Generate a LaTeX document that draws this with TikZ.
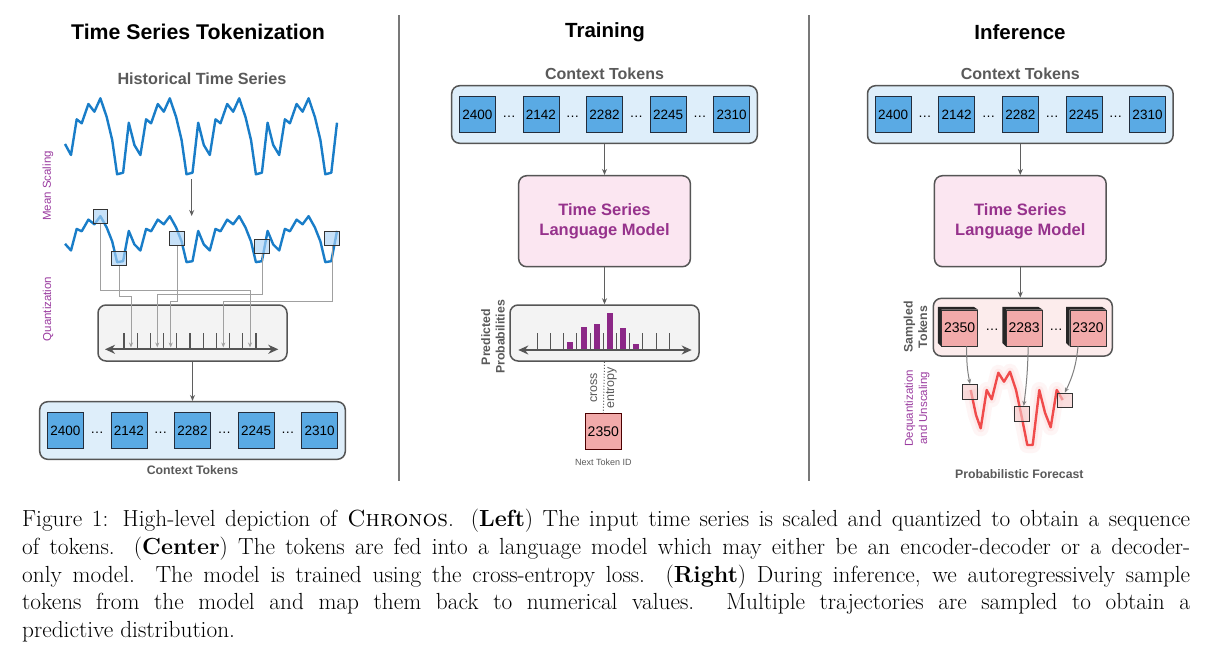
\documentclass[tikz,border=0pt]{standalone}
\usepackage{fontspec}
\newfontfamily\diagsans{Liberation Sans}
\usetikzlibrary{arrows.meta,positioning,calc}

\definecolor{tokblue}{RGB}{90,170,228}
\definecolor{tokedge}{RGB}{35,45,60}
\definecolor{ctxfill}{RGB}{222,238,250}
\definecolor{edgegray}{RGB}{85,85,85}
\definecolor{boxgray}{RGB}{243,243,243}
\definecolor{lmfill}{RGB}{251,230,241}
\definecolor{lmtext}{RGB}{150,50,140}
\definecolor{labpurple}{RGB}{155,60,160}
\definecolor{txtgray}{RGB}{90,90,90}
\definecolor{barpurple}{RGB}{140,40,135}
\definecolor{salmon}{RGB}{242,170,170}
\definecolor{sampfill}{RGB}{252,236,236}
\definecolor{fcred}{RGB}{240,75,75}
\definecolor{seriesblue}{RGB}{25,125,200}
\definecolor{qfill}{RGB}{170,210,245}
\definecolor{ffill}{RGB}{245,200,200}
\definecolor{linkgray}{RGB}{160,160,160}
\definecolor{flowgray}{RGB}{95,95,95}
\definecolor{axisgray}{RGB}{85,85,85}
\definecolor{sepgray}{RGB}{120,120,120}

\tikzset{
  token/.style={draw=tokedge, line width=0.8pt, fill=tokblue, minimum size=36pt, inner sep=0pt, font=\diagsans\fontsize{13.5}{16}\selectfont},
  dotsnode/.style={inner sep=0pt, font=\diagsans\fontsize{13.5}{16}\selectfont},
  ctxbox/.style={draw=edgegray, line width=1.5pt, fill=ctxfill, rounded corners=8pt, minimum width=305.6pt, minimum height=57.6pt, inner sep=0pt},
  panelbox/.style={draw=edgegray, line width=1.5pt, fill=boxgray, rounded corners=8pt, minimum width=189pt, minimum height=56pt, inner sep=0pt},
  lmbox/.style={draw=edgegray, line width=1.5pt, fill=lmfill, rounded corners=8pt, minimum width=171.7pt, minimum height=91pt, align=center, text=lmtext, font=\diagsans\bfseries\fontsize{16.5}{19.5}\selectfont},
  title/.style={font=\diagsans\bfseries\fontsize{20.5}{24}\selectfont},
  sublabel/.style={text=txtgray, font=\diagsans\bfseries\fontsize{16}{19}\selectfont},
  smalllabel/.style={text=txtgray, font=\diagsans\bfseries\fontsize{12.3}{14.5}\selectfont, align=center},
  sidelabel/.style={rotate=90, text=labpurple, font=\diagsans\fontsize{11.5}{14.3}\selectfont, align=center},
  flow/.style={draw=flowgray, line width=1.2pt, -{Stealth[length=6pt,width=5pt]}},
  link/.style={draw=linkgray, line width=1pt, -{Stealth[length=5pt,width=4pt]}},
  axisline/.style={draw=axisgray, line width=2.2pt, {Stealth[length=10pt,width=9pt]}-{Stealth[length=10pt,width=9pt]}},
  tickline/.style={draw=axisgray, line width=1.1pt},
  tsline/.style={draw=seriesblue, line width=2.4pt, line join=round},
  qbox/.style={draw=black!80, line width=1pt, fill=qfill, fill opacity=0.65, minimum size=14.5pt, inner sep=0pt},
  fbox/.style={draw=black!80, line width=1pt, fill=ffill, fill opacity=0.6, minimum size=14.7pt, inner sep=0pt},
  samptok/.style={draw=black!80, line width=0.8pt, fill=salmon, minimum size=36pt, inner sep=0pt, font=\diagsans\fontsize{14}{16}\selectfont},
}

% one row of context tokens: prefix, centre x, centre y
\newcommand{\ctxrow}[3]{%
  \node[ctxbox] (#1box) at (#2,#3) {};
  \foreach \v [count=\i] in {2400,2142,2282,2245,2310} {
    \node[token] (#1t\i) at ({#2+(\i-3)*63.6},#3) {\v};
  }
  \foreach \i in {1,...,4} {
    \node[dotsnode] (#1d\i) at ({#2+(\i-2.5)*63.6},#3+2) {\dots};
  }
}

% the historical series, drawn once as is and once scaled
\newcommand{\histwave}[1]{%
  \draw[tsline,#1] (65,144) -- (71,155) -- (76.7,119.3) -- (81.7,123.3) -- (88.4,104)
    -- (94.4,111.7) -- (100.4,98.3) -- (106.7,117) -- (112.2,140)
    \foreach \x in {117.1,186.5,255.9} {
      -- (\x,174.3) -- (\x+6,172.7) -- (\x+11.7,122.7) -- (\x+17.3,145) -- (\x+23.3,155)
      -- (\x+29,119.3) -- (\x+34,123.3) -- (\x+40.7,104) -- (\x+46.7,111.7)
      -- (\x+52.7,98.3) -- (\x+59,117) -- (\x+64.5,140)
    }
    -- (325.3,174.3) -- (331.3,172.7) -- (337,122.7);
}

\begin{document}
\begin{tikzpicture}[x=1pt, y=-1pt, font=\diagsans]
    \path[fill=white, use as bounding box] (0,0) rectangle (1207,651);

    % Titles and separators
    \node[title, font=\diagsans\bfseries\fontsize{21.3}{24}\selectfont] (ttok) at (198,32) {Time Series Tokenization};
    \node[title] (ttrain) at (605,32) {Training};
    \node[title] (tinf) at (1020,32) {Inference};
    \draw[sepgray, line width=1.3pt] (399,15) -- (399,481);
    \draw[sepgray, line width=1.3pt] (809,15) -- (809,481);

    % Left: scaling of the series
    \node[sublabel, font=\diagsans\bfseries\fontsize{16.2}{19}\selectfont] (hist) at (202,79) {Historical Time Series};
    \histwave{}
    \histwave{yshift=-156.7pt, yscale=0.605}
    \coordinate (hbot) at (191.7,179);
    \coordinate (stop) at (191.7,216);
    \draw[flow] (hbot) -- (stop);
    \node[sidelabel] (mean) at (48,186) {Mean Scaling};
    \node[sidelabel] (quantlab) at (48,309) {Quantization};

    % Left: picked values
    \foreach \x/\y [count=\i] in {100.5/216.7, 119/258.5, 177/238.3, 262/246.7, 332/238.5} {
        \node[qbox] (q\i) at (\x,\y) {};
    }

    % Left: quantization bins
    \node[panelbox] (quant) at (192.5,333) {};
    \foreach \i in {0,...,10} {
        \draw[tickline] ({124+\i*13.2},333.3) -- ({124+\i*13.2},349.3);
    }
    \draw[axisline] (105,349.3) -- (278.3,349.3);
    \foreach \x [count=\i] in {250,131,170.7,157.3,223.3} {
        \coordinate (tip\i) at (\x,347.5);
    }
    \foreach \i/\h in {1/290.7, 2/296.7, 3/301.7, 4/294.3, 5/301.7} {
        \draw[link] (q\i.south) -- (q\i.south |- 0,\h) -| (tip\i);
    }

    % Left: tokens
    \ctxrow{l}{192.5}{430.5}
    \draw[flow] (quant.south) -- (lbox.north);
    \node[sublabel, font=\diagsans\bfseries\fontsize{12.3}{14}\selectfont] (lctxlab) at (192.5,470) {Context Tokens};

    % Centre: training
    \node[sublabel] (cctxlab) at (604.5,73.3) {Context Tokens};
    \ctxrow{c}{604.5}{114.5}
    \node[lmbox] (clm) at (604.5,221.2) {Time Series\\Language Model};
    \draw[flow] (cbox.south) -- (clm.north);
    \node[panelbox] (prob) at (604.5,333) {};
    \draw[flow] (clm.south) -- (prob.north);
    \foreach \i/\h in {2/8.3, 3/23.3, 4/26, 5/37.3, 6/22.3, 7/6} {
        \fill[barpurple] ({537.3+\i*13.2+3.6},350) rectangle ++(6,-\h);
    }
    \foreach \i in {0,...,10} {
        \draw[tickline] ({537.3+\i*13.2},333.3) -- ({537.3+\i*13.2},350);
    }
    \draw[axisline] (518.3,350) -- (691.7,350);
    \node[smalllabel, rotate=90] (problab) at (493,337) {Predicted\\Probabilities};
    \node[samptok, draw=black!70!red] (next) at (603.3,431.7) {2350};
    \draw[txtgray, line width=1pt, dotted] (prob.south) -- (next.north);
    \node[rotate=90, text=txtgray, align=center, font=\diagsans\fontsize{12.5}{17}\selectfont] (ce) at (603.5,388) {cross\\entropy};
    \node[text=txtgray, font=\diagsans\fontsize{9}{11}\selectfont] (nextlab) at (603.3,462.7) {Next Token ID};

    % Right: inference
    \node[sublabel] (rctxlab) at (1020.3,73.3) {Context Tokens};
    \ctxrow{r}{1020.3}{114.5}
    \node[lmbox] (rlm) at (1020.3,221.2) {Time Series\\Language Model};
    \draw[flow] (rbox.south) -- (rlm.north);
    \node[panelbox, fill=sampfill, minimum width=179pt, minimum height=57.7pt] (samp) at (1022.8,327.2) {};
    \draw[flow] (rlm.south) -- (rlm.south |- samp.north);
    \foreach \v/\x [count=\i] in {2350/959.7, 2283/1024.2, 2320/1088} {
        \node[samptok] (s\i) at (\x,328) {\v};
        \fill[black!85] (s\i.south west) -- ++(-3.5,-3.5) -- ++(0,-36) -- ++(36,0)
            -- (s\i.north east) -- (s\i.north west) -- cycle;
    }
    \node[dotsnode] (sd1) at (992,330) {\dots};
    \node[dotsnode] (sd2) at (1056,330) {\dots};
    \node[smalllabel, rotate=90] (samplab) at (915.5,327) {Sampled\\Tokens};

    % Right: forecast with spread
    \foreach \w/\o in {16/0.05, 8/0.07} {
        \draw[fcred, opacity=\o, line width=\w pt, line join=round]
            (970.7,390) -- (976,415) -- (980.7,428.3) -- (986.7,390) -- (991.7,399.3)
            -- (998.3,372.7) -- (1004,381.7) -- (1010,371.7) -- (1016,390) -- (1021.7,416.7)
            -- (1027.3,445) -- (1032.7,445) -- (1039.3,390) -- (1045,412.7) -- (1050.7,427.3)
            -- (1056.7,390) -- (1062.7,400);
    }
    \draw[fcred, line width=2.4pt, line join=round]
        (970.7,390) -- (976,415) -- (980.7,428.3) -- (986.7,390) -- (991.7,399.3)
        -- (998.3,372.7) -- (1004,381.7) -- (1010,371.7) -- (1016,390) -- (1021.7,416.7)
        -- (1027.3,445) -- (1032.7,445) -- (1039.3,390) -- (1045,412.7) -- (1050.7,427.3)
        -- (1056.7,390) -- (1062.7,400);
    \node[fbox] (f1) at (970,391.8) {};
    \node[fbox] (f2) at (1021.7,413.8) {};
    \node[fbox] (f3) at (1064.8,400.5) {};
    \draw[link, draw=gray] ([xshift=7pt]s1.south) to[bend right=6] (f1.north);
    \draw[link, draw=gray] ([xshift=4pt]s2.south) to[bend left=3] ([xshift=2pt]f2.north);
    \draw[link, draw=gray] ([xshift=-10pt]s3.south) to[bend left=10] (f3.north);
    \node[sidelabel] (dequant) at (917,408.3) {Dequantization\\and Unscaling};
    \node[smalllabel] (fclab) at (1019.3,474.3) {Probabilistic Forecast};

    % Caption
    \node[anchor=base west, inner sep=0pt, text width=1168pt, align=justify,
          font=\rmfamily\fontsize{23.3}{27.7}\selectfont] (cap) at (22,526.7)
    {Figure 1: High-level depiction of \textsc{Chronos}. (\textbf{Left}) The input time series is scaled and quantized to obtain a sequence\linebreak
     of tokens. (\textbf{Center}) The tokens are fed into a language model which may either be an encoder-decoder or a decoder-\linebreak
     only model. The model is trained using the cross-entropy loss. (\textbf{Right}) During inference, we autoregressively sample\linebreak
     tokens from the model and map them back to numerical values.  Multiple trajectories are sampled to obtain a\linebreak
     predictive distribution.};
\end{tikzpicture}
\end{document}
